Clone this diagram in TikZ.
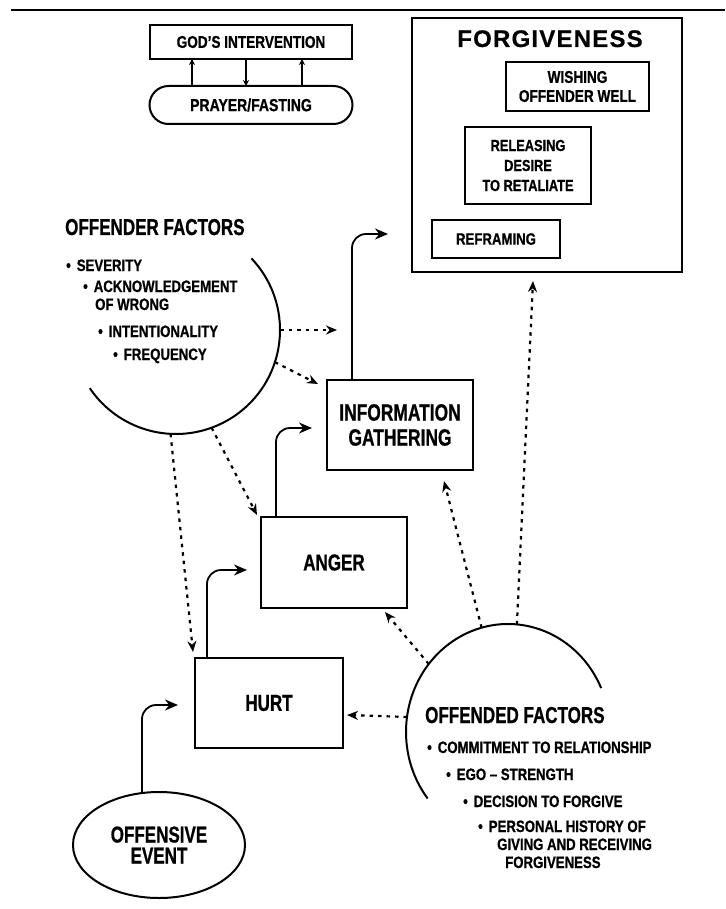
\documentclass[tikz,border=0pt]{standalone}
\usepackage{fontspec}
\usetikzlibrary{arrows.meta,shapes.geometric}
\newfontfamily\fsm[FakeStretch=0.8,FakeBold=0.8]{Liberation Sans}
\newfontfamily\fbig[FakeStretch=0.74,FakeBold=0.8]{Liberation Sans}
\newfontfamily\ftitle[LetterSpace=5,FakeBold=0.5]{Liberation Sans}
\newcommand\setf[3]{#1\bfseries\fontsize{#2}{#3}\selectfont}
\newcommand\mybul{\textbullet\hspace{6pt}}
\begin{document}
\begin{tikzpicture}[x=1pt,y=-1pt,
  box/.style={draw, line width=2pt, inner sep=0pt, outer sep=0pt, align=center},
  bultxt/.style={anchor=base west, inner sep=0pt, font={\setf\fsm{16.5}{19}}},
  heading/.style={anchor=base west, inner sep=0pt, font={\setf\fbig{23}{25}}},
  arcline/.style={line width=2pt},
  solidarr/.style={-{Stealth[length=13pt,width=11pt]}, line width=1.8pt, rounded corners=14pt},
  dotarr/.style={-{Stealth[length=11pt,width=9pt]}, line width=2.2pt, dash pattern=on 3.5pt off 5pt},
  smallarr/.style={-{Stealth[length=6pt,width=6pt]}, line width=1.4pt}
]
\useasboundingbox (0,0) rectangle (725,909);

% top rule
\draw[line width=2.4pt] (11,10) -- (725,10);

% God's intervention / prayer
\node[box, minimum width=202pt, minimum height=34pt, font={\setf\fsm{17}{20}}] (god) at (251,42) {GOD’S INTERVENTION};
\node[box, rounded corners=19pt, minimum width=203pt, minimum height=38pt, font={\setf\fsm{17.5}{20}}] (prayer) at (251,105) {PRAYER/FASTING};
\draw[smallarr] ([xshift=-59pt]prayer.north) -- ([xshift=-59pt]god.south);
\draw[smallarr] ([xshift=-5pt]god.south) -- ([xshift=-5pt]prayer.north);
\draw[smallarr] ([xshift=51pt]prayer.north) -- ([xshift=51pt]god.south);

% Forgiveness
\node[box, minimum width=270pt, minimum height=254pt] (fgbox) at (547,145) {};
\node[anchor=base, inner sep=0pt, font={\setf\ftitle{24}{28}}] (fgtitle) at (550,47) {FORGIVENESS};
\node[box, minimum width=143pt, minimum height=49pt, font={\setf\fsm{17}{19}}] (wish) at (577.5,86.5) {WISHING\\OFFENDER WELL};
\node[box, minimum width=126pt, minimum height=77pt, font={\setf\fsm{16}{20}}] (release) at (528,165.5) {RELEASING\\DESIRE\\TO RETALIATE};
\node[box, minimum width=128pt, minimum height=38pt, font={\setf\fsm{16.5}{19}}] (reframe) at (496,239) {REFRAMING};

% process boxes
\node[box, minimum width=146pt, minimum height=90pt, font={\setf\fbig{23.5}{25}}] (info) at (400,425) {INFORMATION\\GATHERING};
\node[box, minimum width=146pt, minimum height=91pt, font={\setf\fbig{23}{25}}] (anger) at (334,562.5) {ANGER};
\node[box, minimum width=148pt, minimum height=90pt, font={\setf\fbig{23}{25}}] (hurt) at (269,703) {HURT};
\node[draw, ellipse, line width=2pt, inner sep=0pt, outer sep=0pt, minimum width=172pt, minimum height=106pt, align=center, font={\setf\fbig{23}{21}}] (oe) at (159,845) {OFFENSIVE\\EVENT};

% offender factors
\node[heading] (ofrt) at (65,235) {OFFENDER FACTORS};
\node[bultxt] (s1) at (66,271) {\mybul SEVERITY};
\node[bultxt] (s2) at (83,292) {\mybul ACKNOWLEDGEMENT};
\node[bultxt] (s2b) at (95,310) {OF WRONG};
\node[bultxt] (s3) at (98,337) {\mybul INTENTIONALITY};
\node[bultxt] (s4) at (113,360) {\mybul FREQUENCY};
\coordinate (ofrc) at (176,330);
\draw[arcline] ([shift={(43.5:104pt)}]ofrc) arc[start angle=43.5, end angle=-146, radius=104pt];

% offended factors
\node[heading] (ofdt) at (425,723) {OFFENDED FACTORS};
\node[bultxt] (o1) at (427,753) {\mybul COMMITMENT TO RELATIONSHIP};
\node[bultxt] (o2) at (446,780) {\mybul EGO – STRENGTH};
\node[bultxt] (o3) at (463,807) {\mybul DECISION TO FORGIVE};
\node[bultxt] (o4) at (478,832) {\mybul PERSONAL HISTORY OF};
\node[bultxt] (o4b) at (497,850) {GIVING AND RECEIVING};
\node[bultxt] (o4c) at (505,868) {FORGIVENESS};
\coordinate (ofdc) at (508,732);
\draw[arcline] ([shift={(24:102pt and 108pt)}]ofdc) arc[start angle=24, end angle=218, x radius=102pt, y radius=108pt];

% arrow tip coordinates
\coordinate (tA) at (178,705);
\coordinate (tB) at (247,570);
\coordinate (tC) at (312,428);
\coordinate (tD) at (388,234);
\coordinate (d1) at (337,330);
\coordinate (d2) at (318,384);
\coordinate (d3) at (193,652);
\coordinate (d4) at (257,515);
\coordinate (e1) at (347,715);
\coordinate (e2) at (385,612);
\coordinate (e3) at (444,481);
\coordinate (e4) at (533,281);

% solid flow
\draw[solidarr] ([xshift=-17pt]oe.north) |- (tA);
\draw[solidarr] ([xshift=12pt]hurt.north west) |- (tB);
\draw[solidarr] ([xshift=15pt]anger.north west) |- (tC);
\draw[solidarr] ([xshift=25pt]info.north west) |- (tD);

% dotted influences
\draw[dotarr] ([shift={(0:104pt)}]ofrc) -- (d1);
\draw[dotarr] ([shift={(-18:104pt)}]ofrc) -- (d2);
\draw[dotarr] ([shift={(-93:104pt)}]ofrc) -- (d3);
\draw[dotarr] ([shift={(-70:104pt)}]ofrc) -- (d4);
\draw[dotarr] ([shift={(172:102pt and 108pt)}]ofdc) -- (e1);
\draw[dotarr] ([shift={(141:102pt and 108pt)}]ofdc) -- (e2);
\draw[dotarr] ([shift={(105:102pt and 108pt)}]ofdc) -- (e3);
\draw[dotarr] ([shift={(85:102pt and 108pt)}]ofdc) -- (e4);
\end{tikzpicture}
\end{document}
